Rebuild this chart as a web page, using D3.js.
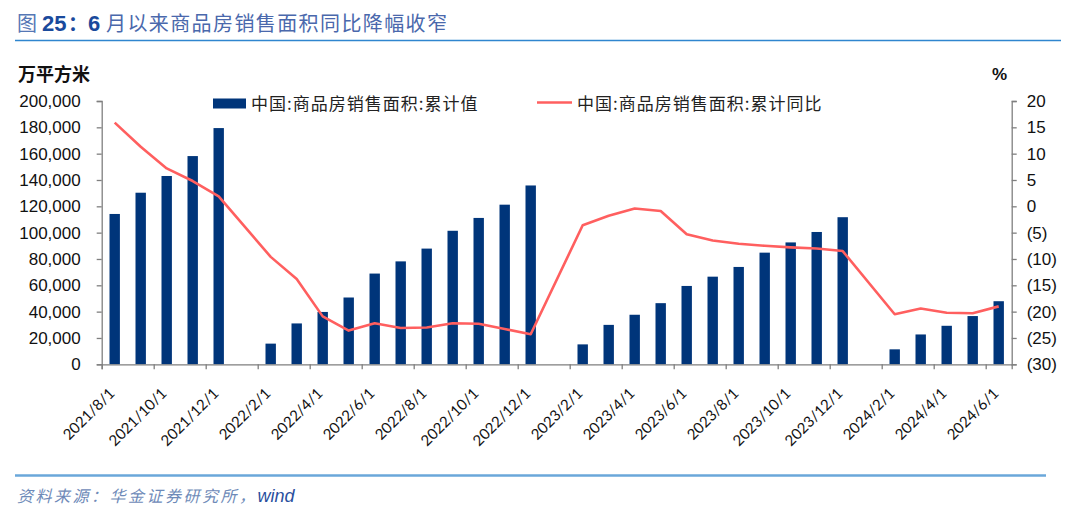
<!DOCTYPE html>
<html>
<head>
<meta charset="utf-8">
<script src="https://cdn.jsdelivr.net/npm/d3@7"></script>
<style>
  html, body { margin: 0; padding: 0; background: #fff; }
  svg { display: block; }
</style>
</head>
<body>
<svg id="chart" width="1080" height="517"></svg>
<script>
// ---- data ----
const categories = [
  "2021/8/1","2021/9/1","2021/10/1","2021/11/1","2021/12/1",
  "2022/1/1","2022/2/1","2022/3/1","2022/4/1","2022/5/1","2022/6/1","2022/7/1","2022/8/1","2022/9/1","2022/10/1","2022/11/1","2022/12/1",
  "2023/1/1","2023/2/1","2023/3/1","2023/4/1","2023/5/1","2023/6/1","2023/7/1","2023/8/1","2023/9/1","2023/10/1","2023/11/1","2023/12/1",
  "2024/1/1","2024/2/1","2024/3/1","2024/4/1","2024/5/1","2024/6/1"
];
const areaCumulative = [
  114193,130332,143041,158166,179433,
  null,15703,31046,39768,50738,68923,78178,87890,101422,111179,121250,135837,
  null,15133,29946,37636,46440,59515,66563,73949,84806,92579,100509,111735,
  null,11369,22668,29252,36642,47916
];
const areaYoY = [
  15.9,11.3,7.2,4.8,1.9,
  null,-9.6,-13.8,-20.9,-23.6,-22.2,-23.1,-23.0,-22.2,-22.3,-23.3,-24.3,
  null,-3.6,-1.8,-0.4,-0.9,-5.3,-6.5,-7.1,-7.5,-7.8,-8.0,-8.5,
  null,-20.5,-19.4,-20.2,-20.3,-19.0
];
const leftTicks = [0,20000,40000,60000,80000,100000,120000,140000,160000,180000,200000];
const rightTicks = [-30,-25,-20,-15,-10,-5,0,5,10,15,20];
const seriesNames = ["中国:商品房销售面积:累计值", "中国:商品房销售面积:累计同比"];
const titleParts = ["图", "25", "：", "6", "月以来商品房销售面积同比降幅收窄"];
const leftUnit = "万平方米";
const rightUnit = "%";
const sourceParts = ["资料来源：华金证券研究所，", "wind"];

// ---- layout ----
const svg = d3.select("#chart");
const X0 = 101.7, X1 = 1011.7, Y0 = 364.3, Y1 = 101;
const barColor = "#00357a", lineColor = "#ff5f5f", axisColor = "#7f7f7f";
const numFont = "'Liberation Sans', Arial, sans-serif";
const cjkFont = "'Noto Sans CJK SC', sans-serif";

const x = d3.scaleBand().domain(categories).range([X0, X1]).paddingInner(0.6).paddingOuter(0.3);
const xIdx = d3.scaleLinear().domain([0, categories.length]).range([X0, X1]);
const yL = d3.scaleLinear().domain([0, 200000]).range([Y0, Y1]);
const yR = d3.scaleLinear().domain([-30, 20]).range([Y0, Y1]);

// title
const title = svg.append("text").attr("y", 31).attr("font-size", 20);
title.append("tspan").attr("x", 17).attr("font-family", cjkFont).attr("fill", "#5577b5").text(titleParts[0]);
title.append("tspan").attr("x", 42).attr("font-family", numFont).attr("fill", "#1a4a9c").attr("font-weight", "bold").attr("font-size", 22).text(titleParts[1]);
title.append("tspan").attr("x", 68).attr("font-family", cjkFont).attr("fill", "#1a4a9c").attr("font-weight", "bold").text(titleParts[2]);
title.append("tspan").attr("x", 88).attr("font-family", numFont).attr("fill", "#1a4a9c").attr("font-weight", "bold").attr("font-size", 22).text(titleParts[3]);
title.append("tspan").attr("x", 106).attr("font-family", cjkFont).attr("fill", "#4a68ac")
  .attr("textLength", 341).attr("lengthAdjust", "spacing").text(titleParts[4]);
svg.append("line").attr("x1", 15).attr("x2", 1061).attr("y1", 40.5).attr("y2", 40.5)
  .attr("stroke", "#2f86cf").attr("stroke-width", 1.6);

// units
svg.append("text").attr("x", 18).attr("y", 81).attr("font-family", cjkFont)
  .attr("font-weight", "bold").attr("font-size", 18).attr("fill", "#111").text(leftUnit);
svg.append("text").attr("x", 992).attr("y", 80).attr("font-family", numFont)
  .attr("font-weight", "bold").attr("font-size", 17).attr("fill", "#111").text(rightUnit);

// bars
svg.append("g").selectAll("rect")
  .data(categories.map((c, i) => ({ c, v: areaCumulative[i] })).filter(d => d.v != null))
  .join("rect")
  .attr("x", d => x(d.c)).attr("width", x.bandwidth())
  .attr("y", d => yL(d.v)).attr("height", d => Y0 - yL(d.v))
  .attr("fill", barColor);

// line (connects across missing January points)
const pts = categories.map((c, i) => ({ c, v: areaYoY[i] })).filter(d => d.v != null);
svg.append("path").datum(pts)
  .attr("fill", "none").attr("stroke", lineColor).attr("stroke-width", 2.6)
  .attr("stroke-linejoin", "round")
  .attr("d", d3.line().x(d => x(d.c) + x.bandwidth() / 2).y(d => yR(d.v)));

// left axis
const gL = svg.append("g").attr("transform", `translate(${X0},0)`)
  .call(d3.axisLeft(yL).tickValues(leftTicks).tickFormat(d3.format(",")).tickSize(5).tickPadding(16));
gL.selectAll("text").attr("font-family", numFont).attr("font-size", 17).attr("fill", "#111");

// right axis
const gR = svg.append("g").attr("transform", `translate(${X1},0)`)
  .call(d3.axisRight(yR).tickValues(rightTicks)
    .tickFormat(d => d < 0 ? `(${-d})` : `${d}`).tickSize(5).tickPadding(10));
gR.selectAll("text").attr("font-family", numFont).attr("font-size", 17).attr("fill", "#111");

// bottom axis: tick marks at category boundaries every 2 months
const gB = svg.append("g").attr("transform", `translate(0,${Y0})`)
  .call(d3.axisBottom(xIdx).tickValues(d3.range(0, categories.length, 2)).tickFormat("").tickSize(5));
// bottom labels at category centers
const gBL = svg.append("g").attr("transform", `translate(0,${Y0})`)
  .call(d3.axisBottom(x).tickValues(categories.filter((c, i) => i % 2 === 0)).tickSize(0).tickPadding(0));
gBL.select(".domain").remove();
gBL.selectAll("text")
  .attr("font-family", "Lato, 'Open Sans', sans-serif").attr("font-size", 15).attr("fill", "#111")
  .attr("text-anchor", "end").attr("dy", null)
  .attr("transform", "translate(1,30) rotate(-45)");

[gL, gR, gB].forEach(g => {
  g.selectAll(".domain").attr("stroke", axisColor).attr("stroke-width", 1.3);
  g.selectAll(".tick line").attr("stroke", axisColor).attr("stroke-width", 1.3);
});

// legend
const lg = svg.append("g").attr("font-family", cjkFont).attr("font-size", 17).attr("fill", "#222").attr("letter-spacing", 1);
lg.append("rect").attr("x", 213).attr("y", 98.5).attr("width", 33).attr("height", 10).attr("fill", barColor);
lg.append("text").attr("x", 251).attr("y", 109.5).text(seriesNames[0]);
lg.append("line").attr("x1", 537).attr("x2", 572).attr("y1", 102.5).attr("y2", 102.5)
  .attr("stroke", lineColor).attr("stroke-width", 2.6);
lg.append("text").attr("x", 577).attr("y", 109.5).text(seriesNames[1]);

// source
svg.append("line").attr("x1", 15).attr("x2", 1046).attr("y1", 475.5).attr("y2", 475.5)
  .attr("stroke", "#6aa7da").attr("stroke-width", 2.4);
const src = svg.append("text").attr("x", 17).attr("y", 502).attr("font-style", "italic").attr("font-size", 16);
src.append("tspan").attr("font-family", cjkFont).attr("fill", "#6e8ab8").attr("letter-spacing", 2.5).text(sourceParts[0]);
src.append("tspan").attr("font-family", numFont).attr("fill", "#2a4f9e").attr("font-size", 18).text(sourceParts[1]);
</script>
</body>
</html>
